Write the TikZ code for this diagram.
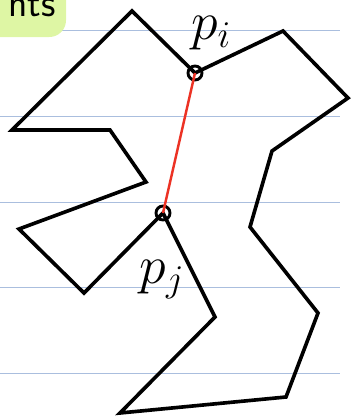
\documentclass[tikz,border=0pt]{standalone}
\usepackage{fix-cm}
\usepackage{tikz}
\usetikzlibrary{positioning}
\usepackage{xcolor}
\definecolor{ruleblue}{RGB}{170,190,222}
\definecolor{tagGreen}{RGB}{222,246,164}
\definecolor{chordred}{RGB}{236,50,36}

\begin{document}
\begin{tikzpicture}[x=0.03cm, y=-0.03cm]
            \tikzstyle{ruling} = [draw=ruleblue, line width=0.8pt]
            \tikzstyle{edge} = [draw, line width=3.1pt, line join=miter]
            \tikzstyle{vertex} = [circle, draw, line width=2.5pt, minimum size=0.42cm, inner sep=0pt]
            \tikzstyle{chord} = [draw=chordred, line width=2.1pt]
            \tikzstyle{lbl} = [font=\fontsize{46}{46}\selectfont, inner sep=0pt]

            \useasboundingbox (0,0) rectangle (350,416);

            % notebook lines
            \foreach \y in {30,116,202,287,373}
                \path [ruling] (0,\y) -- (340,\y);

            % title tag (cut off at the corner)
            \fill [tagGreen, rounded corners=0.5cm] (-40,-40) rectangle (66,37);
            \node [font=\fontsize{34}{34}\selectfont\sffamily, inner sep=0pt] (title) at (32,6) {nts};

            % polygon corners
            \coordinate (v1) at (132,11);
            \coordinate (v2) at (283,31);
            \coordinate (v3) at (348,98);
            \coordinate (v4) at (272,151);
            \coordinate (v5) at (250,227);
            \coordinate (v6) at (318,313);
            \coordinate (v7) at (286,397);
            \coordinate (v8) at (120,413);
            \coordinate (v9) at (215,317);
            \coordinate (v10) at (84,293);
            \coordinate (v11) at (19,229);
            \coordinate (v12) at (146,182);
            \coordinate (v13) at (110,130);
            \coordinate (v14) at (12,130);

            \node [vertex] (pi) at (195,73) {};
            \node [vertex] (pj) at (163,213) {};

            \path [edge] (v1) -- (pi.center) -- (v2) -- (v3) -- (v4) -- (v5) -- (v6)
                -- (v7) -- (v8) -- (v9) -- (pj.center) -- (v10) -- (v11) -- (v12)
                -- (v13) -- (v14) -- cycle;

            \path [chord] (pi.center) -- (pj.center);

            \node [lbl] (pilabel) at (211,33) {$p_i$};
            \node [lbl] (pjlabel) at (162,280) {$p_j$};
        \end{tikzpicture}
\end{document}
